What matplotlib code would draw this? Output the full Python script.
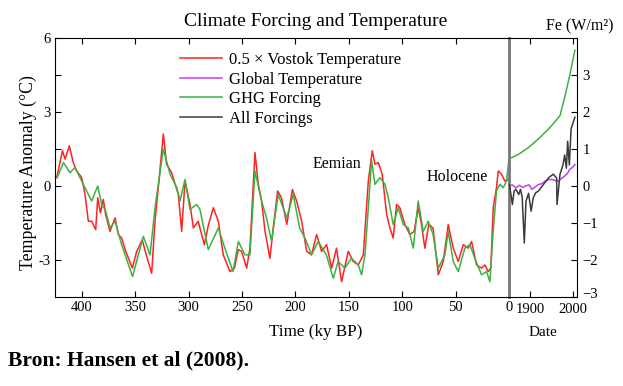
import numpy as np
import matplotlib
matplotlib.use('Agg')
import matplotlib.pyplot as plt
import matplotlib.transforms as mtransforms

plt.rcParams['font.family'] = ['Liberation Serif', 'DejaVu Serif']

# Vostok temperature (x0.5), degC, vs ky BP
vostok_ky = [423.4, 418, 415.6, 411.6, 407.9, 404.7, 400, 396.9, 393.8, 390.6, 386.9, 385,
             382.5, 379.8, 377.6, 373.5, 368.8, 365.7, 362.6, 358.8, 352.6, 348.5, 343.3,
             340.1, 334.5, 331.4, 327.7, 323.6, 320.5, 315.8, 309.6, 306.4, 303.3, 298.6,
             295.5, 291, 285.2, 281.5, 276.8, 272.1, 267.5, 261.2, 257, 253.4, 250.3, 245.6,
             242.5, 237.8, 234.7, 231.6, 228.4, 223.8, 220.7, 216.6, 213, 208, 202.8, 198.8,
             194.1, 189.4, 184.8, 180.1, 175.4, 170.8, 166, 161.5, 156.7, 150.5, 145.8, 141.1,
             136.4, 131.7, 128, 125.5, 122.4, 118.7, 114.5, 111.5, 108.4, 105.3, 102.2, 97.5,
             92.8, 88.8, 85, 81.9, 78.8, 75.1, 71.1, 66.2, 61.5, 56.9, 52.2, 47.5, 42.8, 38.2,
             35, 30.4, 25.7, 22.6, 19.5, 17, 14.8, 11.7, 10.1, 7, 3.9, 0.8]
vostok_t = [0.34, 1.43, 1.09, 1.63, 0.95, 0.61, 0.34, -0.34, -1.43, -1.43, -1.77, -0.48,
            -1.09, -0.54, -1.16, -1.84, -1.29, -1.97, -2.11, -2.65, -3.33, -2.65, -2.18,
            -2.72, -3.54, -1.43, 0.2, 2.11, 0.88, 0.54, -0.34, -1.84, 0.2, -0.75,
            -1.7, -1.43, -2.38, -1.6, -0.88, -1.43, -2.79, -3.47, -3.33, -2.58, -2.65, -3.33,
            -2.52, 1.36, 0.07, -0.61, -1.84, -2.93, -1.7, -0.2, -0.48, -1.56, -0.14, -0.61,
            -1.43, -2.65, -2.79, -1.97, -2.65, -2.38, -3.33, -2.52, -3.88, -2.65, -3.06, -3.2,
            -2.79, 0.2, 1.43, 0.88, 0.95, 0.48, -1.16, -1.7, -2.11, -0.75, -0.88, -1.56,
            -1.97, -1.84, -0.88, -1.56, -2.52, -1.56, -1.7, -3.6, -3.06, -1.56, -2.52, -3.06, -2.38, -2.52,
            -2.25, -3.2, -3.33, -3.2, -3.47, -3.33, -0.88, -0.07, 0.61, 0.48, 0.2, 0.27]

# GHG forcing, scaled to temperature axis
ghg_ky = [423, 417, 411, 406.3, 400, 390.7, 385, 381.3, 378, 373.5, 368.8, 362.6, 352.4,
          342.3, 336, 331.4, 323.6, 317.3, 311, 308, 303.3, 298.6, 292.4, 289.3, 286.4,
          281.5, 272.1, 266, 258.3, 253.4, 247.2, 242.5, 237.8, 231.6, 227, 222.3, 216.1,
          208, 202, 196, 191, 184.8, 178.6, 171, 164.5, 160, 153.6, 147.5, 141.1, 138,
          134.8, 128.6, 125.5, 120.8, 116.1, 113, 108.4, 103.7, 99, 94.3, 89.6, 85, 80.3,
          75.6, 71, 66.2, 60, 56.9, 52.2, 47.5, 41.3, 36.6, 32, 25.7, 21, 17.9, 14.8, 11.7,
          8.5, 5.4, 2.3, 0]
ghg_t = [0.34, 0.95, 0.54, 0.75, 0.2, -0.61, 0.0, -0.75, -0.95, -1.7, -1.43, -2.38, -3.67,
         -2.04, -2.79, -0.88, 1.5, 0.48, -0.07, -0.61, 0.27, -0.95, -0.75, -0.95, -1.57,
         -2.58, -1.7, -2.52, -3.47, -2.25, -2.79, -2.79, 0.61, -0.61, -1.29, -2.25, -0.34,
         -1.29, -0.34, -1.7, -2.11, -2.79, -2.25, -2.79, -3.74, -3.06, -3.33, -2.93, -3.2, -3.6,
         -2.79, 1.02, 0.07, 0.34, 0.07, -0.48, -1.56, -0.88, -1.56, -1.7, -2.52, -0.61, -1.84,
         -1.43, -1.97, -3.33, -2.79, -1.84, -3.06, -3.47, -2.52, -2.38, -2.93, -3.6, -3.47, -3.88, -1.84, -0.2,
         0.07, -0.07, 0.2, 1.1]

# Industrial era (W/m2)
ghg_year = [1850, 1873, 1896, 1919, 1943, 1954, 1970, 1981, 1993, 2005]
ghg_fe = [0.73, 0.86, 1.04, 1.27, 1.54, 1.68, 1.9, 2.4, 2.99, 3.67]

glob_year = [1850, 1858, 1866, 1875, 1882, 1889, 1897, 1904, 1912, 1919, 1927, 1935,
             1942, 1950, 1958, 1966, 1973, 1981, 1987, 1993, 1999, 2005]
glob_t = [0.0, 0.03, -0.05, 0.02, -0.04, 0.0, 0.03, -0.09, -0.02, 0.04, 0.06, 0.13,
          0.17, 0.18, 0.15, 0.13, 0.2, 0.27, 0.33, 0.45, 0.5, 0.58]

all_year = [1851, 1858, 1862, 1866, 1873, 1877, 1881, 1886, 1890, 1896, 1902, 1907, 1913,
            1919, 1931, 1943, 1954, 1962, 1963, 1970, 1977, 1981, 1985, 1988, 1992, 1996, 2005]
all_fe = [0.04, -0.5, -0.14, -0.09, -0.23, -0.09, -0.3, -1.54, -0.41, -0.2, -0.68, -0.32, -0.18,
          -0.14, 0.04, 0.22, 0.32, 0.22, -0.5, 0.32, 0.57, 0.84, 0.48, 1.21, 0.57, 1.54, 1.86]

red = '#ff2222'
green = '#3cb043'
violet = '#c040f0'
black = '#3a3a3a'

fig = plt.figure(figsize=(6.23, 3.86), dpi=100)
W, H = 623, 386
ax1 = fig.add_axes([55 / W, 89 / H, 454 / W, 259 / H])
ax2 = fig.add_axes([509 / W, 89 / H, 68 / W, 259 / H])

l1, = ax1.plot(vostok_ky, vostok_t, color=red, lw=1.1)
l3, = ax1.plot(ghg_ky, ghg_t, color=green, lw=1.1)
ax1.set_xlim(425, 0)
ax1.set_ylim(-4.5, 6)
ax1.set_xticks([400, 350, 300, 250, 200, 150, 100, 50, 0])
ax1.set_yticks([-3, -1.5, 0, 1.5, 3, 4.5, 6])
ax1.set_yticklabels(['-3', '', '0', '', '3', '', '6'])
ax1.tick_params(direction='in', length=4, width=0.8, labelsize=10.5, top=True, pad=3)
ax1.spines['right'].set_color('#777777')
ax1.spines['right'].set_linewidth(2)

ax2.plot(ghg_year, ghg_fe, color=green, lw=1.1)
l2, = ax2.plot(glob_year, glob_t, color=violet, lw=1.1)
l4, = ax2.plot(all_year, all_fe, color=black, lw=1.1)
ax2.set_xlim(1850, 2010)
ax2.set_ylim(-3, 4)
ax2.set_xticks([1900, 2000])
ax2.set_yticks([-3, -2, -1, 0, 1, 2, 3])
ax2.yaxis.tick_right()
ax2.tick_params(direction='in', length=4, width=0.8, labelsize=10.5, top=True, pad=4)
ax2.spines['left'].set_visible(False)
ax2.patch.set_alpha(0)

# lift the lowest Fe label a little, as in the original
shift = mtransforms.ScaledTranslation(0, 3 / 72, fig.dpi_scale_trans)
lab = ax2.get_yticklabels()[0]
lab.set_transform(lab.get_transform() + shift)

ax1.legend([l1, l2, l3, l4],
           ['0.5 \u00d7 Vostok Temperature', 'Global Temperature', 'GHG Forcing', 'All Forcings'],
           loc='upper left', bbox_to_anchor=(0.275, 0.945), frameon=False, fontsize=12,
           handlelength=2.5, handletextpad=0.45, labelspacing=0.21, borderpad=0, borderaxespad=0)

ax1.text(161, 0.9, 'Eemian', fontsize=11.5, ha='center', va='center')
ax1.text(48.7, 0.37, 'Holocene', fontsize=11.5, ha='center', va='center')

fig.text(316 / W, 1 - 21 / H, 'Climate Forcing and Temperature', fontsize=14, ha='center', va='center')
fig.text(580 / W, 1 - 26 / H, 'Fe (W/m\u00b2)', fontsize=11.5, ha='center', va='center')
fig.text(28 / W, 1 - 173 / H, 'Temperature Anomaly (\u00b0C)', fontsize=12.8, rotation=90,
         ha='center', va='center')
fig.text(316 / W, 1 - 332 / H, 'Time (ky BP)', fontsize=12.3, ha='center', va='center')
fig.text(543 / W, 1 - 332 / H, 'Date', fontsize=11, ha='center', va='center')
fig.text(8 / W, 1 - 360 / H, 'Bron: Hansen et al (2008).', fontsize=15.5, fontweight='bold',
         ha='left', va='center')

fig.savefig('out.png', dpi=100)
